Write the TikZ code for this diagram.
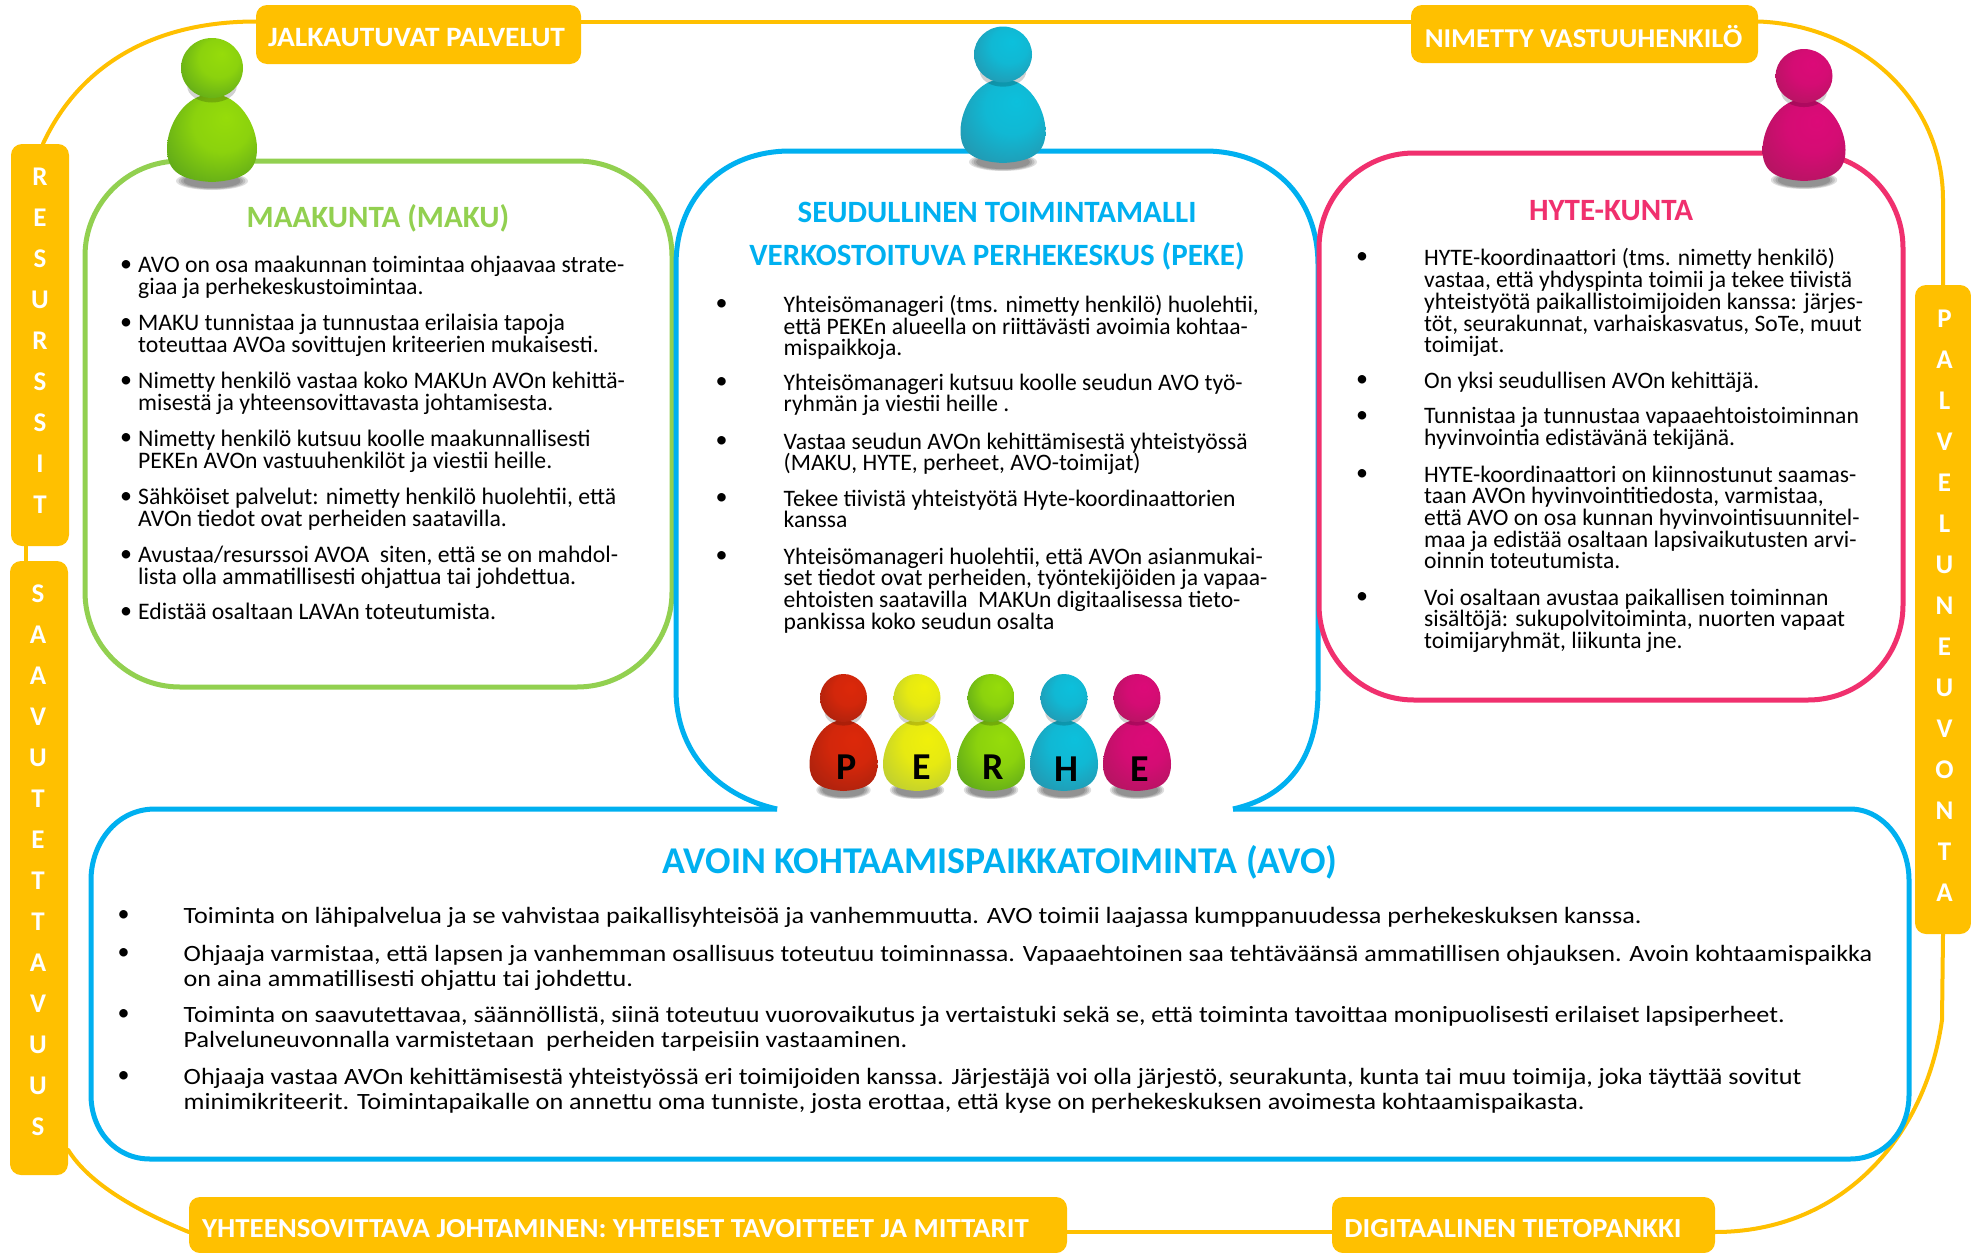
\documentclass[tikz,border=0pt]{standalone}
\usepackage{fontspec}
\setmainfont{Carlito}
\newfontfamily\avofont[FakeStretch=1.12]{Carlito}
\newfontfamily\banfont[FakeStretch=1.05]{Carlito}
\usetikzlibrary{calc,backgrounds}
\AtBeginDocument{\lineskiplimit=-30pt\relax}
\definecolor{ringy}{HTML}{FFC000}
\definecolor{lgreen}{HTML}{92D050}
\definecolor{lblue}{HTML}{00B0F0}
\definecolor{lpink}{HTML}{F0306E}
\newcommand{\declfig}[3]{%
  \definecolor{#1a}{HTML}{#2}\definecolor{#1b}{HTML}{#3}%
  \pgfdeclareradialshading{#1}{\pgfpoint{8bp}{12bp}}{color(0bp)=(#1a);color(16bp)=(#1a!85!#1b);color(40bp)=(#1b);color(50bp)=(#1b)}}
\declfig{fgreen}{96DC0A}{4F9A1E}
\declfig{fblue}{0CC0DC}{2A8CA4}
\declfig{fpink}{DC0A78}{A8185A}
\declfig{fred}{DC280A}{9C200F}
\declfig{fyellow}{F0F00A}{B0C43C}
% shading, centre x, head y, head rx, head ry, body top, body bottom, half width
\newcommand{\figurine}[8]{%
  \foreach \s in {1.00,0.93,0.86,0.79}{\fill[black,opacity=0.13] (#2,#7-1) ellipse ({#8*0.80*\s} and {9*\s});}
  \begin{scope}[shift={(#2,#6)},xscale=#8,yscale={#7-#6}]
    \shade[shading=#1] (0,0) .. controls (0.6,0) and (1,0.35) .. (1,0.62) .. controls (1,0.86) and (0.75,0.98) .. (0,1) .. controls (-0.75,0.98) and (-1,0.86) .. (-1,0.62) .. controls (-1,0.35) and (-0.6,0) .. (0,0) -- cycle;
  \end{scope}
  \fill[black,opacity=0.18] (#2,#3+#5*0.6) ellipse ({#4*0.8} and {#5*0.55});
  \shade[shading=#1] (#2,#3) ellipse ({#4} and {#5});
}
\newcommand{\bitem}[6]{%
  \node[#1] (#2) at ({#4},{#5-10}) {\strut #6};
  \node[bulletmark] (#2b) at ({#3},{#5}) {•};
}
\tikzset{
  x=1pt,y=-1pt,
  ring/.style={draw=ringy,line width=4pt,line cap=round},
  banner/.style={fill=ringy,rounded corners=11pt,inner sep=0pt},
  bantext/.style={inner sep=0pt,text=white,font=\banfont\fontsize{#1}{28}\selectfont\bfseries},
  sidebar/.style={fill=ringy,rounded corners=11pt},
  sideletters/.style={anchor=north,inner sep=0pt,align=center,text=white,font=\fontsize{27}{41}\selectfont\bfseries},
  gpara/.style={anchor=north west,inner sep=0pt,align=left,font=\fontsize{23.7}{22}\selectfont},
  bpara/.style={anchor=north west,inner sep=0pt,align=left,font=\fontsize{23.6}{21.7}\selectfont},
  apara/.style={anchor=north west,inner sep=0pt,align=left,font=\avofont\fontsize{23.35}{24.6}\selectfont},
  bulletmark/.style={inner sep=0pt,font=\fontsize{24}{24}\selectfont},
  boxline/.style={line width=5pt},
  title/.style={inner sep=0pt,font=\fontsize{31}{31}\selectfont\bfseries},
  famletter/.style={inner sep=0pt,font=\fontsize{38}{38}\selectfont\bfseries,text=black},
}
\begin{document}
\begin{tikzpicture}
\useasboundingbox (0,0) rectangle (1971,1253);
% frame items
\node[banner,minimum width=325pt,minimum height=59pt] (jalk) at (418.5,34.5) {};
\node[banner,minimum width=347pt,minimum height=58pt] (nimetty) at (1584.5,34) {};
\node[banner,minimum width=878pt,minimum height=56pt] (yht) at (628,1225) {};
\node[banner,minimum width=383pt,minimum height=56pt] (dig) at (1523.5,1225) {};
\node[sidebar,minimum width=58pt,minimum height=402pt] (res) at (40,345) {};
\node[sidebar,minimum width=58pt,minimum height=614pt] (saav) at (39,868) {};
\node[sidebar,minimum width=56pt,minimum height=649pt] (palv) at (1943,609.5) {};
\coordinate (ringtop) at (0,21.5);
\coordinate (ringbot) at (0,1232);
\begin{scope}[on background layer]
\fill[white] (0,0) rectangle (1971,1253);
\draw[ring] ([xshift=3pt]res.north) .. controls (78,68) and (150,21.5) .. (jalk.west|-ringtop);
\draw[ring] (jalk.east|-ringtop) -- (nimetty.west|-ringtop);
\draw[ring] (nimetty.east|-ringtop) .. controls (1860,25) and (1943,100) .. (1943,200) -- (palv.north);
\draw[ring] (palv.south) -- (1942,1020) .. controls (1925,1140) and (1840,1232) .. (dig.east|-ringbot);
\draw[ring] (dig.west|-ringbot) -- (yht.east|-ringbot);
\draw[ring] (saav.east|-0,1150) .. controls (90,1185) and (140,1212) .. (yht.west|-ringbot);
\draw[ring] (res.south-|26,0) -- (saav.north-|26,0);
\end{scope}
\node[bantext=28] (jalkl) at (416.5,38) {JALKAUTUVAT PALVELUT};
\node[bantext=27.2] (niml) at (1583.5,37) {NIMETTY VASTUUHENKILÖ};
\node[bantext=27.5] (yhtl) at (615.5,1229) {YHTEENSOVITTAVA JOHTAMINEN: YHTEISET TAVOITTEET JA MITTARIT};
\node[bantext=27.6] (digl) at (1513,1229) {DIGITAALINEN TIETOPANKKI};
\node[sideletters] (resl) at (40,167.5) {R\\E\\S\\U\\R\\S\\S\\I\\T};
\node[sideletters] (saavl) at (38,584.5) {S\\A\\A\\V\\U\\T\\E\\T\\T\\A\\V\\U\\U\\S};
\node[sideletters] (palvl) at (1944.5,309.5) {P\\A\\L\\V\\E\\L\\U\\N\\E\\U\\V\\O\\N\\T\\A};
% boxes
\draw[lgreen,boxline,rounded corners=95pt] (85,161) rectangle (672,687);
\node[title,text=lgreen] (makut) at (378,218) {MAAKUNTA (MAKU)};
\coordinate (pekeL) at (777,809);
\coordinate (pekeR) at (1233,809);
\draw[lblue,boxline] (pekeL) .. controls (715,795) and (676,750) .. (676,690) -- (676,265) .. controls (676,195) and (725,151) .. (790,151) -- (1205,151) .. controls (1270,151) and (1318,195) .. (1318,265) -- (1318,690) .. controls (1318,750) and (1295,795) .. (pekeR);
\draw[lblue,boxline] (pekeL) -- (155,809) .. controls (115,809) and (91,845) .. (91,880) -- (91,1095) .. controls (91,1130) and (115,1159) .. (150,1159) -- (1850,1159) .. controls (1885,1159) and (1909,1130) .. (1909,1095) -- (1909,880) .. controls (1909,845) and (1885,809) .. (1850,809) -- (pekeR);
\draw[lpink,boxline,rounded corners=95pt] (1319,153) rectangle (1903,700);
\node[title,text=lblue] (seud) at (997,212) {SEUDULLINEN TOIMINTAMALLI};
\node[title,text=lblue] (verk) at (997,256) {VERKOSTOITUVA PERHEKESKUS (PEKE)};
\node[title,text=lpink] (hyte) at (1611,211) {HYTE-KUNTA};
\node[inner sep=0pt,text=lblue,font=\fontsize{37.8}{38}\selectfont\bfseries] (avot) at (1000,862) {AVOIN KOHTAAMISPAIKKATOIMINTA (AVO)};
% figures
\figurine{fgreen}{212}{68}{31}{30}{94}{182}{45}
\figurine{fblue}{1003}{54.5}{29}{28}{79}{163}{42.5}
\figurine{fpink}{1804}{76}{28.5}{27}{99}{181}{41.5}
\figurine{fred}{843.5}{698}{23.5}{24}{720}{791}{34}
\figurine{fyellow}{917}{698}{23.5}{24}{720}{791}{34}
\figurine{fgreen}{991}{698}{23.5}{24}{720}{791}{34}
\figurine{fblue}{1064}{698}{23.5}{24}{720}{791}{34}
\figurine{fpink}{1137}{698}{23.5}{24}{720}{791}{34}
\node[famletter] (fp) at (846.5,767) {P};
\node[famletter] (fe) at (922,767) {E};
\node[famletter] (fr) at (993,767) {R};
\node[famletter] (fh) at (1066,769) {H};
\node[famletter] (fe2) at (1140,769) {E};
% maakunta text
\bitem{gpara}{g1}{126}{138}{266}{AVO on osa maakunnan toimintaa ohjaavaa strate-\\giaa ja perhekeskustoimintaa.}
\bitem{gpara}{g2}{126}{138}{324}{MAKU tunnistaa ja tunnustaa erilaisia tapoja\\toteuttaa AVOa sovittujen kriteerien mukaisesti.}
\bitem{gpara}{g3}{126}{138}{382}{Nimetty henkilö vastaa koko MAKUn AVOn kehittä-\\misestä ja yhteensovittavasta johtamisesta.}
\bitem{gpara}{g4}{126}{138}{439.5}{Nimetty henkilö kutsuu koolle maakunnallisesti\\PEKEn AVOn vastuuhenkilöt ja viestii heille.}
\bitem{gpara}{g5}{126}{138}{498}{Sähköiset palvelut: nimetty henkilö huolehtii, että\\AVOn tiedot ovat perheiden saatavilla.}
\bitem{gpara}{g6}{126}{138}{555.6}{Avustaa/resurssoi AVOA\ \ siten, että se on mahdol-\\lista olla ammatillisesti ohjattua tai johdettua.}
\bitem{gpara}{g7}{126}{138}{613}{Edistää osaltaan LAVAn toteutumista.}
% peke text
\bitem{bpara}{b1}{721.5}{783.5}{305}{Yhteisömanageri (tms. nimetty henkilö) huolehtii,\\että PEKEn alueella on riittävästi avoimia kohtaa-\\mispaikkoja.}
\bitem{bpara}{b2}{721.5}{783.5}{383.5}{Yhteisömanageri kutsuu koolle seudun AVO työ-\\ryhmän ja viestii heille .}
\bitem{bpara}{b3}{721.5}{783.5}{442.5}{Vastaa seudun AVOn kehittämisestä yhteistyössä\\(MAKU, HYTE, perheet, AVO-toimijat)}
\bitem{bpara}{b4}{721.5}{783.5}{499.5}{Tekee tiivistä yhteistyötä Hyte-koordinaattorien\\kanssa}
\bitem{bpara}{b5}{721.5}{783.5}{557.5}{Yhteisömanageri huolehtii, että AVOn asianmukai-\\set tiedot ovat perheiden, työntekijöiden ja vapaa-\\ehtoisten saatavilla\ \ MAKUn digitaalisessa tieto-\\pankissa koko seudun osalta}
% hyte text
\bitem{bpara}{p1}{1362}{1424}{258.5}{HYTE-koordinaattori (tms. nimetty henkilö)\\vastaa, että yhdyspinta toimii ja tekee tiivistä\\yhteistyötä paikallistoimijoiden kanssa: järjes-\\töt, seurakunnat, varhaiskasvatus, SoTe, muut\\toimijat.}
\bitem{bpara}{p2}{1362}{1424}{381.5}{On yksi seudullisen AVOn kehittäjä.}
\bitem{bpara}{p3}{1362}{1424}{417}{Tunnistaa ja tunnustaa vapaaehtoistoiminnan\\hyvinvointia edistävänä tekijänä.}
\bitem{bpara}{p4}{1362}{1424}{475.5}{HYTE-koordinaattori on kiinnostunut saamas-\\taan AVOn hyvinvointitiedosta, varmistaa,\\että AVO on osa kunnan hyvinvointisuunnitel-\\maa ja edistää osaltaan lapsivaikutusten arvi-\\oinnin toteutumista.}
\bitem{bpara}{p5}{1362}{1424}{598.5}{Voi osaltaan avustaa paikallisen toiminnan\\sisältöjä: sukupolvitoiminta, nuorten vapaat\\toimijaryhmät, liikunta jne.}
% avo text
\bitem{apara}{a1}{123.5}{183.5}{916}{Toiminta on lähipalvelua ja se vahvistaa paikallisyhteisöä ja vanhemmuutta. AVO toimii laajassa kumppanuudessa perhekeskuksen kanssa.}
\bitem{apara}{a2}{123.5}{183.5}{954}{Ohjaaja varmistaa, että lapsen ja vanhemman osallisuus toteutuu toiminnassa. Vapaaehtoinen saa tehtäväänsä ammatillisen ohjauksen. Avoin kohtaamispaikka\\on aina ammatillisesti ohjattu tai johdettu.}
\bitem{apara}{a3}{123.5}{183.5}{1015}{Toiminta on saavutettavaa, säännöllistä, siinä toteutuu vuorovaikutus ja vertaistuki sekä se, että toiminta tavoittaa monipuolisesti erilaiset lapsiperheet.\\Palveluneuvonnalla varmistetaan\ \ perheiden tarpeisiin vastaaminen.}
\bitem{apara}{a4}{123.5}{183.5}{1077}{Ohjaaja vastaa AVOn kehittämisestä yhteistyössä eri toimijoiden kanssa. Järjestäjä voi olla järjestö, seurakunta, kunta tai muu toimija, joka täyttää sovitut\\minimikriteerit. Toimintapaikalle on annettu oma tunniste, josta erottaa, että kyse on perhekeskuksen avoimesta kohtaamispaikasta.}
\end{tikzpicture}
\end{document}
